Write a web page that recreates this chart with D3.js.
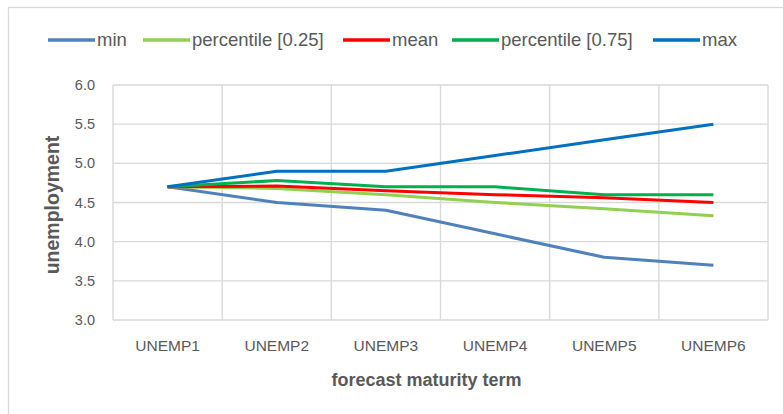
<!DOCTYPE html>
<html><head><meta charset="utf-8">
<script src="https://cdn.jsdelivr.net/npm/d3@7"></script>
<style>body{margin:0;background:#fff}svg{display:block}</style>
</head><body>
<svg id="c" width="783" height="414"></svg>
<script>
const categories = ["UNEMP1","UNEMP2","UNEMP3","UNEMP4","UNEMP5","UNEMP6"];
const minVals  = [4.7, 4.5, 4.4, 4.1, 3.8, 3.7];
const p25Vals  = [4.7, 4.68, 4.6, 4.5, 4.42, 4.33];
const meanVals = [4.7, 4.71, 4.65, 4.6, 4.56, 4.5];
const p75Vals  = [4.7, 4.78, 4.7, 4.7, 4.6, 4.6];
const maxVals  = [4.7, 4.9, 4.9, 5.1, 5.3, 5.5];
const yTicks = [3.0, 3.5, 4.0, 4.5, 5.0, 5.5, 6.0];
const seriesNames = ["min","percentile [0.25]","mean","percentile [0.75]","max"];
const seriesColors = ["#4f81bd","#92d050","#ff0000","#00b050","#0070c0"];
const seriesData = [minVals,p25Vals,meanVals,p75Vals,maxVals];

const svg = d3.select("#c");
const font = "'Liberation Sans', Arial, sans-serif";
const L = 113, R = 768, T = 85, B = 320;

svg.append("rect").attr("x",8.5).attr("y",7.5).attr("width",800).attr("height",420)
  .attr("fill","#fff").attr("stroke","#d9d9d9").attr("stroke-width",1.3);

const x = d3.scaleBand().domain(categories).range([L,R]);
const y = d3.scaleLinear().domain([3,6]).range([B,T]);

svg.append("g").selectAll("line").data(yTicks).join("line")
  .attr("x1",L).attr("x2",R).attr("y1",d=>y(d)).attr("y2",d=>y(d))
  .attr("stroke","#d9d9d9").attr("stroke-width",1.4);
const vb = categories.map(c=>x(c)).concat([R]);
svg.append("g").selectAll("line").data(vb).join("line")
  .attr("x1",d=>d).attr("x2",d=>d).attr("y1",T).attr("y2",B)
  .attr("stroke","#d9d9d9").attr("stroke-width",1.4);

const ya = svg.append("g").attr("transform",`translate(${L},0)`)
  .call(d3.axisLeft(y).tickValues(yTicks).tickFormat(d3.format(".1f")).tickSize(0).tickPadding(18));
ya.select(".domain").remove();
ya.selectAll("text").attr("font-family",font).attr("font-size",14.5).attr("fill","#595959");

const xa = svg.append("g").attr("transform",`translate(0,${B})`)
  .call(d3.axisBottom(x).tickSize(0));
xa.select(".domain").remove();
xa.selectAll("text").attr("y",31).attr("dy",0).attr("font-family",font).attr("font-size",15.5).attr("fill","#595959");

const line = d3.line().x((d,i)=>x(categories[i])+x.bandwidth()/2).y(d=>y(d));
seriesData.forEach((s,k)=>{
  svg.append("path").datum(s).attr("d",line).attr("fill","none")
    .attr("stroke",seriesColors[k]).attr("stroke-width",3).attr("stroke-linejoin","round");
});

svg.append("text").attr("x",(L+R)/2-14).attr("y",386).attr("text-anchor","middle")
  .attr("font-family",font).attr("font-weight","bold").attr("font-size",18).attr("fill","#595959")
  .text("forecast maturity term");
svg.append("text").attr("x",-205).attr("y",58.5).attr("transform","rotate(-90)").attr("text-anchor","middle")
  .attr("font-family",font).attr("font-weight","bold").attr("font-size",19.5).attr("fill","#595959")
  .text("unemployment");

const legX = [48,143,343,452,653];
const lg = svg.append("g");
seriesNames.forEach((n,k)=>{
  lg.append("line").attr("x1",legX[k]).attr("x2",legX[k]+47).attr("y1",40).attr("y2",40)
    .attr("stroke",seriesColors[k]).attr("stroke-width",3.5);
  lg.append("text").attr("x",legX[k]+49).attr("y",46).attr("font-family",font)
    .attr("font-size",18.5).attr("fill","#595959").text(n);
});
</script>
</body></html>
